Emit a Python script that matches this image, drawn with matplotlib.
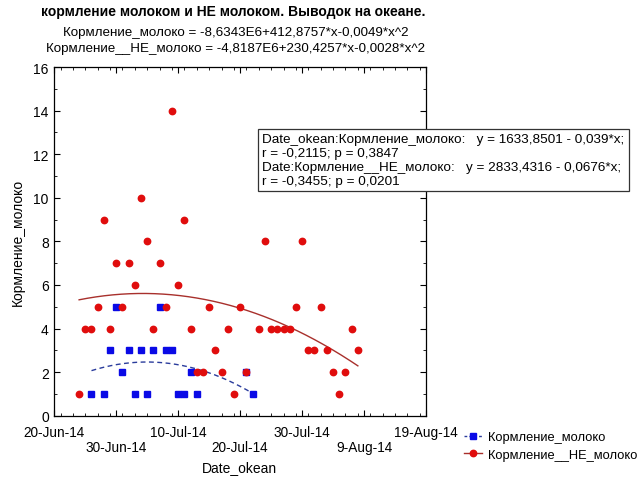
import numpy as np
import pandas as pd
import matplotlib
matplotlib.use("Agg")
import matplotlib.pyplot as plt
import matplotlib.dates as mdates
from matplotlib.ticker import MultipleLocator

plt.rcParams['font.family'] = ['Liberation Sans', 'DejaVu Sans']

# Observation dates are stored as day offsets from the season start
season_start = pd.Timestamp('2014-06-20')

milk_days = [6, 8, 9, 10, 11, 12, 13, 14, 15, 16, 17, 18, 19, 20, 21, 22, 23, 31, 32]
milk_values = [1, 1, 3, 5, 2, 3, 1, 3, 1, 3, 5, 3, 3, 1, 1, 2, 1, 2, 1]

nonmilk_days = [4, 5, 6, 7, 8, 9, 10, 11, 12, 13, 14, 15, 16, 17, 18, 19, 20, 21, 22,
                23, 24, 25, 26, 27, 28, 29, 30, 31, 33, 34, 35, 36, 37, 38, 39, 40,
                41, 42, 43, 44, 45, 46, 47, 48, 49]
nonmilk_values = [1, 4, 4, 5, 9, 4, 7, 5, 7, 6, 10, 8, 4, 7, 5, 14, 6, 9, 4,
                  2, 2, 5, 3, 2, 4, 1, 5, 2, 4, 8, 4, 4, 4, 4, 5, 8,
                  3, 3, 5, 3, 2, 1, 2, 4, 3]

x_tick_labels = ['20-Jun-14', '30-Jun-14', '10-Jul-14', '20-Jul-14',
                 '30-Jul-14', '9-Aug-14', '19-Aug-14']

title = 'кормление молоком и НЕ молоком. Выводок на океане.'
eq_lines = ['Кормление_молоко = -8,6343E6+412,8757*x-0,0049*x^2',
            'Кормление__НЕ_молоко = -4,8187E6+230,4257*x-0,0028*x^2']
stats_lines = ['Date_okean:Кормление_молоко:   y = 1633,8501 - 0,039*x;',
               'r = -0,2115; p = 0,3847',
               'Date:Кормление__НЕ_молоко:   y = 2833,4316 - 0,0676*x;',
               'r = -0,3455; p = 0,0201']

milk_dates = season_start + pd.to_timedelta(milk_days, unit='D')
nonmilk_dates = season_start + pd.to_timedelta(nonmilk_days, unit='D')

fig = plt.figure(figsize=(6.43, 4.81), dpi=100)
ax = fig.add_axes([0.0845, 0.1337, 0.578, 0.7249])

blue = '#0a0ae6'
red = '#e00d0d'

# quadratic fits over each series' date range
def quad_fit(days, vals):
    d = np.asarray(days, dtype=float)
    c = np.polyfit(d, np.asarray(vals, dtype=float), 2)
    xs = np.linspace(d.min(), d.max(), 200)
    return season_start + pd.to_timedelta(xs, unit='D'), np.polyval(c, xs)

fx, fy = quad_fit(milk_days, milk_values)
ax.plot(fx, fy, ls=(0, (3.5, 2.5)), color='#2a3c9c', lw=1.0, zorder=2)
fx2, fy2 = quad_fit(nonmilk_days, nonmilk_values)
ax.plot(fx2, fy2, ls='-', color='#a8302c', lw=1.0, zorder=2)

ax.plot(milk_dates, milk_values, 's', color=blue, ms=5.0, mec=blue, zorder=3)
ax.plot(nonmilk_dates, nonmilk_values, 'o', color=red, ms=4.6, mec=red, zorder=4)

ax.set_xlim(season_start, season_start + pd.Timedelta(days=60))
ax.set_ylim(0, 16)

major_dates = [season_start + pd.Timedelta(days=10 * i) for i in range(7)]
ax.set_xticks(mdates.date2num(major_dates))
ax.set_xticklabels([''] * len(x_tick_labels))
ax.xaxis.set_minor_locator(MultipleLocator(2))
ax.yaxis.set_major_locator(MultipleLocator(2))
ax.yaxis.set_minor_locator(MultipleLocator(1))
ax.tick_params(which='both', direction='in', top=True, right=True)
ax.tick_params(which='major', length=4, width=0.8, labelsize=10)
ax.tick_params(which='minor', length=2.5, width=0.6)
ax.tick_params(axis='y', pad=4)

# staggered date labels in two rows
for i, (d, lab) in enumerate(zip(major_dates, x_tick_labels)):
    off = -11.5 if i % 2 == 0 else -22.5
    ax.annotate(lab, xy=(mdates.date2num(d), 0), xycoords=('data', 'axes fraction'),
                xytext=(0, off), textcoords='offset points',
                ha='center', va='center', fontsize=9.8)

for sp in ax.spines.values():
    sp.set_linewidth(0.9)

ax.set_ylabel('Кормление_молоко', fontsize=10, labelpad=6)
fig.text(0.373, 1 - 468 / 481, 'Date_okean', ha='center', va='center', fontsize=10)

fig.text(0.362, 0.975, title, ha='center', va='center', fontsize=10, fontweight='bold')
fig.text(0.366, 0.931, eq_lines[0], ha='center', va='center', fontsize=9.6)
fig.text(0.366, 0.898, eq_lines[1], ha='center', va='center', fontsize=9.6)

fig.text(0.408, 1 - 161 / 481, '\n'.join(stats_lines), ha='left', va='center',
         fontsize=9.7, linespacing=1.2,
         bbox=dict(boxstyle='square,pad=0.3', fc='white', ec='#333333', lw=0.9))

handles = [
    plt.Line2D([], [], color='#2a3c9c', ls=(0, (2, 1.5)), lw=1.0, marker='s',
               ms=5, mfc=blue, mec=blue),
    plt.Line2D([], [], color='#a8302c', ls='-', lw=1.0, marker='o',
               ms=4.6, mfc=red, mec=red),
]
fig.legend(handles, ['Кормление_молоко', 'Кормление__НЕ_молоко'],
           loc='upper left', bbox_to_anchor=(0.708, 0.12), frameon=False,
           fontsize=9.3, handlelength=1.4, handletextpad=0.4, labelspacing=0.4,
           borderpad=0.2)

fig.savefig('out.png', dpi=100)
